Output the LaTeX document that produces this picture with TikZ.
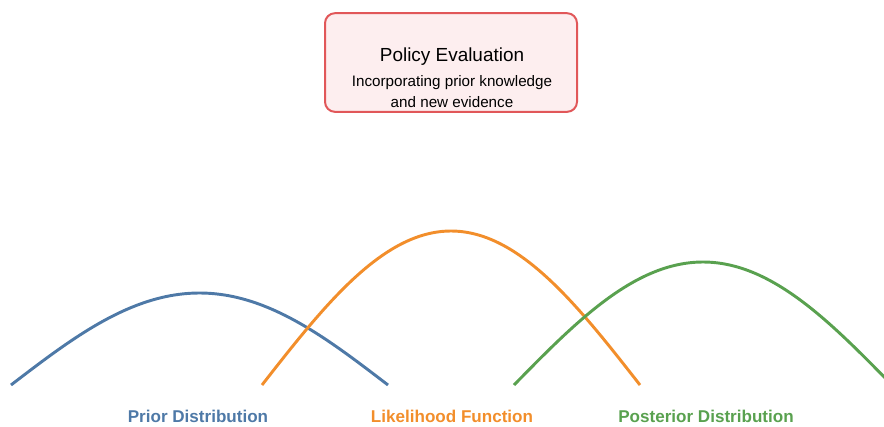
\documentclass[tikz,border=0pt]{standalone}
\usepackage{fontspec}
\setmainfont{Liberation Sans}
\usepackage{xcolor}
\usetikzlibrary{positioning}

\definecolor{priorblue}{HTML}{4E79A7}
\definecolor{likeorange}{HTML}{F28E2B}
\definecolor{postgreen}{HTML}{59A14F}
\definecolor{boxred}{HTML}{E15759}
\definecolor{boxfill}{HTML}{FDEEEF}

\begin{document}
\begin{tikzpicture}[x=0.75pt, y=-0.75pt, line join=round]
    \tikzstyle{titlebox} = [draw=boxred, fill=boxfill, line width=1.5pt, rounded corners=7.5pt, minimum width=189pt, minimum height=74pt]
    \tikzstyle{curve} = [line width=2.2pt]
    \tikzstyle{label} = [font=\fontsize{12.8}{15}\selectfont\bfseries]

    \useasboundingbox (0,0) rectangle (884,426);

    % header box
    \node[titlebox] (policy) at (451,62.5) {};
    \node[font=\fontsize{14.2}{17}\selectfont] (policytitle) at (452,57) {Policy Evaluation};
    \node[align=center, font=\fontsize{11.4}{15.75}\selectfont] (policytext) at (452,91.5) {Incorporating prior knowledge\\and new evidence};

    % the three curves (half sine waves)
    \draw[curve, priorblue] (11,385) sin (199.5,293) cos (388,385);
    \draw[curve, likeorange] (262,385) sin (451,231) cos (640,385);
    \begin{scope}
        \clip (0,0) rectangle (884,426);
        \draw[curve, postgreen] (514,385) sin (703,262) cos (892,385);
    \end{scope}

    % captions
    \node[label, text=priorblue] (prior) at (198,416) {Prior Distribution};
    \node[label, text=likeorange] (likelihood) at (452,416) {Likelihood Function};
    \node[label, text=postgreen] (posterior) at (706,416) {Posterior Distribution};
\end{tikzpicture}
\end{document}
